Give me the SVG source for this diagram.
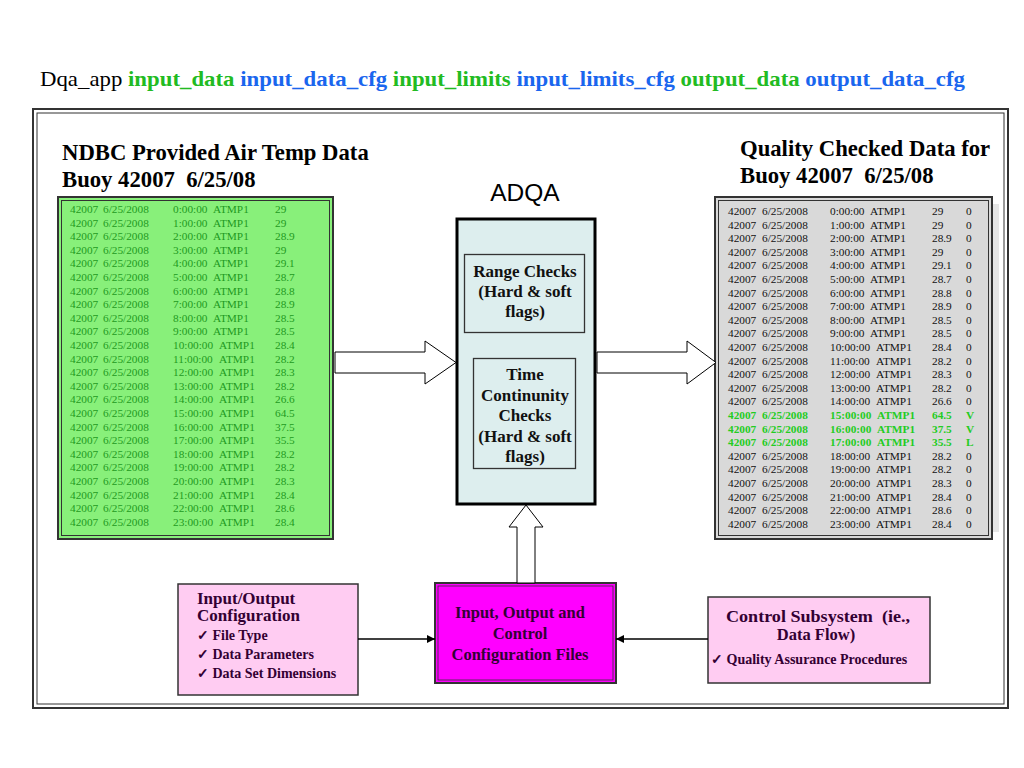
<svg xmlns="http://www.w3.org/2000/svg" width="1024" height="768" viewBox="0 0 1024 768">
<style>
.t{font-family:"Liberation Serif","Times New Roman",serif}
.b{font-weight:bold}
.hd{font-family:"Liberation Serif",serif;font-weight:bold;font-size:22.7px;fill:#000}
.gl{font-family:"Liberation Serif",serif;font-size:11.3px;fill:#1f9a1f}
.gr{font-family:"Liberation Serif",serif;font-size:11.3px;fill:#111}
.gv{font-family:"Liberation Serif",serif;font-size:11.3px;fill:#22cc22;font-weight:bold}
.bx{font-family:"Liberation Serif",serif;font-weight:bold;font-size:17px;fill:#111;text-anchor:middle}
.pk{font-family:"Liberation Serif",serif;font-weight:bold;fill:#330033}
.blk{fill:#fff;stroke:#000;stroke-width:1}
</style>
<defs>
<marker id="ah" viewBox="0 0 10 10" refX="10" refY="5" markerWidth="8" markerHeight="8" markerUnits="userSpaceOnUse" orient="auto">
<path d="M0,0 L10,5 L0,10 z" fill="#000"/>
</marker>
</defs>
<rect width="1024" height="768" fill="#fff"/>
<text class="t" x="40" y="86" font-size="22" textLength="925" lengthAdjust="spacingAndGlyphs"><tspan fill="#000">Dqa_app </tspan><tspan class="b" fill="#22bb22">input_data </tspan><tspan class="b" fill="#1a66ee">input_data_cfg </tspan><tspan class="b" fill="#22bb22">input_limits </tspan><tspan class="b" fill="#1a66ee">input_limits_cfg </tspan><tspan class="b" fill="#22bb22">output_data </tspan><tspan class="b" fill="#1a66ee">output_data_cfg</tspan></text>
<g id="frame">
<rect x="33" y="109" width="975" height="599" fill="none" stroke="#333" stroke-width="2"/>
<rect x="37" y="113" width="967" height="591" fill="none" stroke="#333" stroke-width="1"/>
</g>
<g id="input-data">
<text class="hd" x="62" y="160">NDBC Provided Air Temp Data</text>
<text class="hd" x="62" y="187" xml:space="preserve">Buoy 42007  6/25/08</text>
<rect x="58" y="197" width="275" height="342" fill="#88f07a" stroke="#333" stroke-width="2"/>
<rect x="61.5" y="200.5" width="268" height="335" fill="none" stroke="#333" stroke-width="1"/>
<g class="gl">
<text y="213"><tspan x="70">42007</tspan><tspan x="103">6/25/2008</tspan><tspan x="173">0:00:00</tspan><tspan x="213">ATMP1</tspan><tspan x="275">29</tspan></text>
<text y="226.6"><tspan x="70">42007</tspan><tspan x="103">6/25/2008</tspan><tspan x="173">1:00:00</tspan><tspan x="213">ATMP1</tspan><tspan x="275">29</tspan></text>
<text y="240.2"><tspan x="70">42007</tspan><tspan x="103">6/25/2008</tspan><tspan x="173">2:00:00</tspan><tspan x="213">ATMP1</tspan><tspan x="275">28.9</tspan></text>
<text y="253.8"><tspan x="70">42007</tspan><tspan x="103">6/25/2008</tspan><tspan x="173">3:00:00</tspan><tspan x="213">ATMP1</tspan><tspan x="275">29</tspan></text>
<text y="267.4"><tspan x="70">42007</tspan><tspan x="103">6/25/2008</tspan><tspan x="173">4:00:00</tspan><tspan x="213">ATMP1</tspan><tspan x="275">29.1</tspan></text>
<text y="281"><tspan x="70">42007</tspan><tspan x="103">6/25/2008</tspan><tspan x="173">5:00:00</tspan><tspan x="213">ATMP1</tspan><tspan x="275">28.7</tspan></text>
<text y="294.6"><tspan x="70">42007</tspan><tspan x="103">6/25/2008</tspan><tspan x="173">6:00:00</tspan><tspan x="213">ATMP1</tspan><tspan x="275">28.8</tspan></text>
<text y="308.2"><tspan x="70">42007</tspan><tspan x="103">6/25/2008</tspan><tspan x="173">7:00:00</tspan><tspan x="213">ATMP1</tspan><tspan x="275">28.9</tspan></text>
<text y="321.8"><tspan x="70">42007</tspan><tspan x="103">6/25/2008</tspan><tspan x="173">8:00:00</tspan><tspan x="213">ATMP1</tspan><tspan x="275">28.5</tspan></text>
<text y="335.4"><tspan x="70">42007</tspan><tspan x="103">6/25/2008</tspan><tspan x="173">9:00:00</tspan><tspan x="213">ATMP1</tspan><tspan x="275">28.5</tspan></text>
<text y="349"><tspan x="70">42007</tspan><tspan x="103">6/25/2008</tspan><tspan x="173">10:00:00</tspan><tspan x="219">ATMP1</tspan><tspan x="275">28.4</tspan></text>
<text y="362.6"><tspan x="70">42007</tspan><tspan x="103">6/25/2008</tspan><tspan x="173">11:00:00</tspan><tspan x="219">ATMP1</tspan><tspan x="275">28.2</tspan></text>
<text y="376.2"><tspan x="70">42007</tspan><tspan x="103">6/25/2008</tspan><tspan x="173">12:00:00</tspan><tspan x="219">ATMP1</tspan><tspan x="275">28.3</tspan></text>
<text y="389.8"><tspan x="70">42007</tspan><tspan x="103">6/25/2008</tspan><tspan x="173">13:00:00</tspan><tspan x="219">ATMP1</tspan><tspan x="275">28.2</tspan></text>
<text y="403.4"><tspan x="70">42007</tspan><tspan x="103">6/25/2008</tspan><tspan x="173">14:00:00</tspan><tspan x="219">ATMP1</tspan><tspan x="275">26.6</tspan></text>
<text y="417"><tspan x="70">42007</tspan><tspan x="103">6/25/2008</tspan><tspan x="173">15:00:00</tspan><tspan x="219">ATMP1</tspan><tspan x="275">64.5</tspan></text>
<text y="430.6"><tspan x="70">42007</tspan><tspan x="103">6/25/2008</tspan><tspan x="173">16:00:00</tspan><tspan x="219">ATMP1</tspan><tspan x="275">37.5</tspan></text>
<text y="444.2"><tspan x="70">42007</tspan><tspan x="103">6/25/2008</tspan><tspan x="173">17:00:00</tspan><tspan x="219">ATMP1</tspan><tspan x="275">35.5</tspan></text>
<text y="457.8"><tspan x="70">42007</tspan><tspan x="103">6/25/2008</tspan><tspan x="173">18:00:00</tspan><tspan x="219">ATMP1</tspan><tspan x="275">28.2</tspan></text>
<text y="471.4"><tspan x="70">42007</tspan><tspan x="103">6/25/2008</tspan><tspan x="173">19:00:00</tspan><tspan x="219">ATMP1</tspan><tspan x="275">28.2</tspan></text>
<text y="485"><tspan x="70">42007</tspan><tspan x="103">6/25/2008</tspan><tspan x="173">20:00:00</tspan><tspan x="219">ATMP1</tspan><tspan x="275">28.3</tspan></text>
<text y="498.6"><tspan x="70">42007</tspan><tspan x="103">6/25/2008</tspan><tspan x="173">21:00:00</tspan><tspan x="219">ATMP1</tspan><tspan x="275">28.4</tspan></text>
<text y="512.2"><tspan x="70">42007</tspan><tspan x="103">6/25/2008</tspan><tspan x="173">22:00:00</tspan><tspan x="219">ATMP1</tspan><tspan x="275">28.6</tspan></text>
<text y="525.8"><tspan x="70">42007</tspan><tspan x="103">6/25/2008</tspan><tspan x="173">23:00:00</tspan><tspan x="219">ATMP1</tspan><tspan x="275">28.4</tspan></text>
</g>
</g>
<g id="output-data">
<text class="hd" x="740" y="156">Quality Checked Data for</text>
<text class="hd" x="740" y="183" xml:space="preserve">Buoy 42007  6/25/08</text>
<rect x="992" y="204" width="7" height="328" fill="#e6e6e6"/>
<rect x="715" y="197" width="277" height="342" fill="#d9d9d9" stroke="#333" stroke-width="2"/>
<rect x="718.5" y="200.5" width="270" height="335" fill="none" stroke="#333" stroke-width="1"/>
<g class="gr">
<text y="215"><tspan x="728">42007</tspan><tspan x="762">6/25/2008</tspan><tspan x="830">0:00:00</tspan><tspan x="870">ATMP1</tspan><tspan x="932">29</tspan><tspan x="966">0</tspan></text>
<text y="228.6"><tspan x="728">42007</tspan><tspan x="762">6/25/2008</tspan><tspan x="830">1:00:00</tspan><tspan x="870">ATMP1</tspan><tspan x="932">29</tspan><tspan x="966">0</tspan></text>
<text y="242.2"><tspan x="728">42007</tspan><tspan x="762">6/25/2008</tspan><tspan x="830">2:00:00</tspan><tspan x="870">ATMP1</tspan><tspan x="932">28.9</tspan><tspan x="966">0</tspan></text>
<text y="255.8"><tspan x="728">42007</tspan><tspan x="762">6/25/2008</tspan><tspan x="830">3:00:00</tspan><tspan x="870">ATMP1</tspan><tspan x="932">29</tspan><tspan x="966">0</tspan></text>
<text y="269.4"><tspan x="728">42007</tspan><tspan x="762">6/25/2008</tspan><tspan x="830">4:00:00</tspan><tspan x="870">ATMP1</tspan><tspan x="932">29.1</tspan><tspan x="966">0</tspan></text>
<text y="283"><tspan x="728">42007</tspan><tspan x="762">6/25/2008</tspan><tspan x="830">5:00:00</tspan><tspan x="870">ATMP1</tspan><tspan x="932">28.7</tspan><tspan x="966">0</tspan></text>
<text y="296.6"><tspan x="728">42007</tspan><tspan x="762">6/25/2008</tspan><tspan x="830">6:00:00</tspan><tspan x="870">ATMP1</tspan><tspan x="932">28.8</tspan><tspan x="966">0</tspan></text>
<text y="310.2"><tspan x="728">42007</tspan><tspan x="762">6/25/2008</tspan><tspan x="830">7:00:00</tspan><tspan x="870">ATMP1</tspan><tspan x="932">28.9</tspan><tspan x="966">0</tspan></text>
<text y="323.8"><tspan x="728">42007</tspan><tspan x="762">6/25/2008</tspan><tspan x="830">8:00:00</tspan><tspan x="870">ATMP1</tspan><tspan x="932">28.5</tspan><tspan x="966">0</tspan></text>
<text y="337.4"><tspan x="728">42007</tspan><tspan x="762">6/25/2008</tspan><tspan x="830">9:00:00</tspan><tspan x="870">ATMP1</tspan><tspan x="932">28.5</tspan><tspan x="966">0</tspan></text>
<text y="351"><tspan x="728">42007</tspan><tspan x="762">6/25/2008</tspan><tspan x="830">10:00:00</tspan><tspan x="876">ATMP1</tspan><tspan x="932">28.4</tspan><tspan x="966">0</tspan></text>
<text y="364.6"><tspan x="728">42007</tspan><tspan x="762">6/25/2008</tspan><tspan x="830">11:00:00</tspan><tspan x="876">ATMP1</tspan><tspan x="932">28.2</tspan><tspan x="966">0</tspan></text>
<text y="378.2"><tspan x="728">42007</tspan><tspan x="762">6/25/2008</tspan><tspan x="830">12:00:00</tspan><tspan x="876">ATMP1</tspan><tspan x="932">28.3</tspan><tspan x="966">0</tspan></text>
<text y="391.8"><tspan x="728">42007</tspan><tspan x="762">6/25/2008</tspan><tspan x="830">13:00:00</tspan><tspan x="876">ATMP1</tspan><tspan x="932">28.2</tspan><tspan x="966">0</tspan></text>
<text y="405.4"><tspan x="728">42007</tspan><tspan x="762">6/25/2008</tspan><tspan x="830">14:00:00</tspan><tspan x="876">ATMP1</tspan><tspan x="932">26.6</tspan><tspan x="966">0</tspan></text>
<text y="459.8"><tspan x="728">42007</tspan><tspan x="762">6/25/2008</tspan><tspan x="830">18:00:00</tspan><tspan x="876">ATMP1</tspan><tspan x="932">28.2</tspan><tspan x="966">0</tspan></text>
<text y="473.4"><tspan x="728">42007</tspan><tspan x="762">6/25/2008</tspan><tspan x="830">19:00:00</tspan><tspan x="876">ATMP1</tspan><tspan x="932">28.2</tspan><tspan x="966">0</tspan></text>
<text y="487"><tspan x="728">42007</tspan><tspan x="762">6/25/2008</tspan><tspan x="830">20:00:00</tspan><tspan x="876">ATMP1</tspan><tspan x="932">28.3</tspan><tspan x="966">0</tspan></text>
<text y="500.6"><tspan x="728">42007</tspan><tspan x="762">6/25/2008</tspan><tspan x="830">21:00:00</tspan><tspan x="876">ATMP1</tspan><tspan x="932">28.4</tspan><tspan x="966">0</tspan></text>
<text y="514.2"><tspan x="728">42007</tspan><tspan x="762">6/25/2008</tspan><tspan x="830">22:00:00</tspan><tspan x="876">ATMP1</tspan><tspan x="932">28.6</tspan><tspan x="966">0</tspan></text>
<text y="527.8"><tspan x="728">42007</tspan><tspan x="762">6/25/2008</tspan><tspan x="830">23:00:00</tspan><tspan x="876">ATMP1</tspan><tspan x="932">28.4</tspan><tspan x="966">0</tspan></text>
</g>
<g class="gv">
<text y="419"><tspan x="728">42007</tspan><tspan x="762">6/25/2008</tspan><tspan x="830">15:00:00</tspan><tspan x="877">ATMP1</tspan><tspan x="932">64.5</tspan><tspan x="966">V</tspan></text>
<text y="432.6"><tspan x="728">42007</tspan><tspan x="762">6/25/2008</tspan><tspan x="830">16:00:00</tspan><tspan x="877">ATMP1</tspan><tspan x="932">37.5</tspan><tspan x="966">V</tspan></text>
<text y="446.2"><tspan x="728">42007</tspan><tspan x="762">6/25/2008</tspan><tspan x="830">17:00:00</tspan><tspan x="877">ATMP1</tspan><tspan x="932">35.5</tspan><tspan x="966">L</tspan></text>
</g>
</g>
<g id="adqa">
<text x="525" y="201" font-family="Liberation Sans,Arial,sans-serif" font-size="24.5" text-anchor="middle" fill="#000">ADQA</text>
<rect x="457" y="219" width="138" height="285" fill="#ddeeee" stroke="#000" stroke-width="3"/>
</g>
<g id="range-checks">
<rect x="464.5" y="254.5" width="120" height="78" fill="#ddeeee" stroke="#333" stroke-width="1.3"/>
<text class="bx" x="525" y="277">Range Checks</text>
<text class="bx" x="525" y="297">(Hard &amp; soft</text>
<text class="bx" x="525" y="317">flags)</text>
</g>
<g id="time-checks">
<rect x="473.5" y="358.5" width="102" height="110" fill="#ddeeee" stroke="#333" stroke-width="1.3"/>
<text class="bx" x="525" y="380">Time</text>
<text class="bx" x="525" y="401">Continunity</text>
<text class="bx" x="525" y="421">Checks</text>
<text class="bx" x="525" y="442">(Hard &amp; soft</text>
<text class="bx" x="525" y="462">flags)</text>
</g>
<g id="config-files">
<rect x="435" y="583" width="181" height="100" fill="#ff00ff" stroke="#333" stroke-width="2"/>
<rect x="438" y="586" width="175" height="94" fill="none" stroke="#333" stroke-width="0.8"/>
<text class="pk" x="520" y="618" font-size="16.5" text-anchor="middle">Input, Output and</text>
<text class="pk" x="520" y="639" font-size="16.5" text-anchor="middle">Control</text>
<text class="pk" x="520" y="660" font-size="16.5" text-anchor="middle">Configuration Files</text>
</g>
<g id="io-config">
<rect x="178" y="584" width="180" height="111" fill="#ffccf2" stroke="#333" stroke-width="1.5"/>
<text class="pk" x="197" y="604" font-size="17">Input/Output</text>
<text class="pk" x="197" y="621" font-size="17">Configuration</text>
<text class="pk" x="197" y="640" font-size="14">✓ File Type</text>
<text class="pk" x="197" y="659" font-size="14">✓ Data Parameters</text>
<text class="pk" x="197" y="678" font-size="14">✓ Data Set Dimensions</text>
</g>
<g id="control-subsystem">
<rect x="708" y="597" width="222" height="86" fill="#ffccf2" stroke="#333" stroke-width="1.5"/>
<text class="pk" x="818" y="622" font-size="16.5" text-anchor="middle" textLength="184" lengthAdjust="spacingAndGlyphs" xml:space="preserve">Control Subsystem  (ie.,</text>
<text class="pk" x="816" y="640" font-size="16.5" text-anchor="middle">Data Flow)</text>
<text class="pk" x="711" y="664" font-size="14">✓ Quality Assurance Procedures</text>
</g>
<g id="connectors">
<path class="blk" d="M335,352 L425,352 L425,341 L456,362.5 L425,384 L425,373 L335,373 z"/>
<path class="blk" d="M597,352 L687,352 L687,341 L716,362.5 L687,384 L687,373 L597,373 z"/>
<path class="blk" d="M517,583 L517,527 L509,527 L526,505 L543,527 L535,527 L535,583 z"/>
<line x1="358" y1="639" x2="435" y2="639" stroke="#000" stroke-width="1.3" marker-end="url(#ah)"/>
<line x1="708" y1="639" x2="616" y2="639" stroke="#000" stroke-width="1.3" marker-end="url(#ah)"/>
</g>
</svg>
